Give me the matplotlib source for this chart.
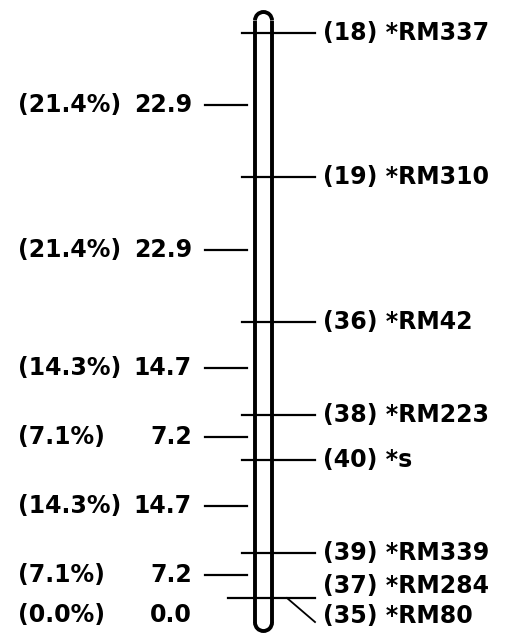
import matplotlib
matplotlib.use("Agg")
import matplotlib.pyplot as plt
from matplotlib.patches import Arc
import numpy as np

# ---- data ----
marker_names = ["RM337", "RM310", "RM42", "RM223", "s", "RM339", "RM284", "RM80"]
marker_ids = [18, 19, 36, 38, 40, 39, 37, 35]
interval_cm = [22.9, 22.9, 14.7, 7.2, 14.7, 7.2, 0.0]
interval_pct = [21.4, 21.4, 14.3, 7.1, 14.3, 7.1, 0.0]

# ---- layout ----
W, H, DPI = 505, 633, 100
PX_PER_CM = 6.306          # vertical scale of the drawing
TOP_PX = 33                # pixel row of first marker
CHR_L, CHR_R = 255, 272    # chromosome outline x (px)
TOP_PAD_PX, BOT_PAD_PX = 21, 33
FS = 17

pos = np.concatenate([[0.0], np.cumsum(interval_cm)])
px = 1.0 / PX_PER_CM       # one pixel expressed in cM

fig = plt.figure(figsize=(W / DPI, H / DPI), dpi=DPI)
ax = fig.add_axes([0, 0, 1, 1])
ax.set_xlim(0, W)
ax.set_ylim((H - TOP_PX) * px, -TOP_PX * px)
ax.axis("off")

# chromosome outline
r = (CHR_R - CHR_L) / 2
cx = (CHR_L + CHR_R) / 2
top_c = pos[0] - TOP_PAD_PX * px + r * px
bot_c = pos[-1] + BOT_PAD_PX * px - r * px
lw_chr = 2.8
ax.plot([CHR_L, CHR_L], [top_c, bot_c], color="black", lw=lw_chr, solid_capstyle="butt")
ax.plot([CHR_R, CHR_R], [top_c, bot_c], color="black", lw=lw_chr, solid_capstyle="butt")
ax.add_patch(Arc((cx, top_c), 2 * r, 2 * r * px, theta1=180, theta2=360, color="black", lw=lw_chr))
ax.add_patch(Arc((cx, bot_c), 2 * r, 2 * r * px, theta1=0, theta2=180, color="black", lw=lw_chr))

# markers on the right
label_dy_px = {6: -12, 7: 18}
for i, (name, mid, y) in enumerate(zip(marker_names, marker_ids, pos)):
    txt = f"({mid}) *{name}"
    if i == 7:
        ax.plot([287, 315], [y, y + 24 * px], color="black", lw=1.3)
        ly = y + label_dy_px[i] * px
    else:
        x0 = 228 if i == 6 else 242
        ax.plot([x0, 315], [y, y], color="black", lw=1.6)
        ly = y + label_dy_px.get(i, 0) * px
    ax.text(323, ly, txt, ha="left", va="center", fontsize=FS, fontweight="bold",
            color="black", family="DejaVu Sans")

# intervals on the left
for j, (d, p) in enumerate(zip(interval_cm, interval_pct)):
    mid_y = (pos[j] + pos[j + 1]) / 2
    if d > 0:
        ax.plot([205, 247], [mid_y, mid_y], color="black", lw=1.6)
        ly = mid_y
    else:
        ly = mid_y + 17 * px
    ax.text(18, ly, f"({p:.1f}%)", ha="left", va="center", fontsize=FS,
            fontweight="bold", color="black", family="DejaVu Sans")
    ax.text(192, ly, f"{d:.1f}", ha="right", va="center", fontsize=FS,
            fontweight="bold", color="black", family="DejaVu Sans")

fig.savefig("out.png", dpi=DPI, facecolor="white")
